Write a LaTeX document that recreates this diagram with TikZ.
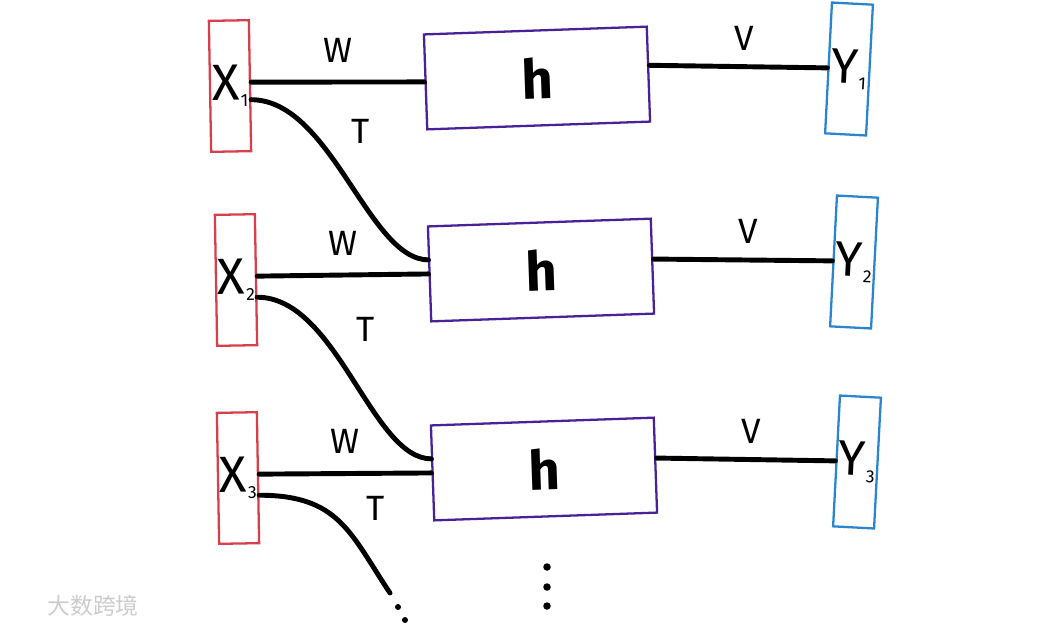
\documentclass[tikz,border=0pt]{standalone}
\usepackage{fontspec}
\setmainfont{Fira Sans}
\newfontfamily\cjk{Noto Sans CJK SC}
\usetikzlibrary{positioning}

\definecolor{vermelhoX}{RGB}{214,64,76}
\definecolor{roxoH}{RGB}{72,34,150}
\definecolor{azulY}{RGB}{44,132,208}
\newcommand{\indice}[2]{#1\kern0.02em\raisebox{-0.12em}{\fontsize{10}{10}\selectfont #2}}

\begin{document}
\begin{tikzpicture}[x=0.02cm, y=-0.02cm,
  caixaX/.style={draw=vermelhoX, line width=1.3pt, minimum width=0.8cm, minimum height=2.62cm, inner sep=0pt, font=\fontsize{29}{29}\selectfont},
  caixaH/.style={draw=roxoH, line width=1.3pt, minimum width=4.46cm, minimum height=1.9cm, font=\fontsize{31}{31}\selectfont\bfseries},
  caixaY/.style={draw=azulY, line width=1.3pt, minimum width=0.82cm, minimum height=2.62cm, inner sep=0pt, font=\fontsize{28}{28}\selectfont},
  fio/.style={line width=2.8pt, line cap=round},
  rotulo/.style={font=\fontsize{20}{20}\selectfont, inner sep=2pt},
  ponto/.style={circle, fill=black, inner sep=0pt, minimum size=0.12cm}
]
\useasboundingbox (0,0) rectangle (1050,627); %tamanho da figura em pixels

%----------------------------------------------------
%Desenhar e posicionar as caixas
%----------------------------------------------------
\draw (230,86) node[caixaX, rotate=1](X1){\indice{X}{1}}; %entrada 1
\draw (236,280) node[caixaX, rotate=1](X2){\indice{X}{2}}; %entrada 2
\draw (238,478) node[caixaX, rotate=1](X3){\indice{X}{3}}; %entrada 3

\draw (537,78) node[caixaH, rotate=2](H1){h}; %estado oculto 1
\draw (541,270) node[caixaH, rotate=2](H2){h}; %estado oculto 2
\draw (544,469) node[caixaH, rotate=2](H3){h}; %estado oculto 3

\draw (849,69) node[caixaY, rotate=-3](Y1){\indice{Y}{1}}; %saida 1
\draw (854,262) node[caixaY, rotate=-3](Y2){\indice{Y}{2}}; %saida 2
\draw (857,462) node[caixaY, rotate=-3](Y3){\indice{Y}{3}}; %saida 3

%----------------------------------------------------
%Ligacoes W (entrada -> h) e V (h -> saida)
%----------------------------------------------------
\draw[fio] ([yshift=2pt]X1.east) -- (H1.west) node[rotulo, midway, above=8pt]{W};
\draw[fio] ([yshift=2pt]X2.east) -- (H2.west) node[rotulo, midway, above=8pt]{W};
\draw[fio] ([yshift=2pt]X3.east) -- (H3.west) node[rotulo, midway, above=8pt]{W};

\draw[fio] ([yshift=5pt]H1.east) -- ([yshift=0pt]Y1.west) node[rotulo, pos=0.53, above=6pt]{V};
\draw[fio] ([yshift=4pt]H2.east) -- ([yshift=0pt]Y2.west) node[rotulo, pos=0.53, above=6pt]{V};
\draw[fio] ([yshift=4pt]H3.east) -- ([yshift=0pt]Y3.west) node[rotulo, pos=0.53, above=6pt]{V};

%----------------------------------------------------
%Ligacoes T (entrada -> h seguinte)
%----------------------------------------------------
\draw[fio] ([yshift=-8pt]X1.east) .. controls +(80,0) and +(-60,0) .. ([yshift=8pt]H2.west) node[rotulo, pos=0.42, above right=9pt]{T};
\draw[fio] ([yshift=-10pt]X2.east) .. controls +(80,0) and +(-60,0) .. ([yshift=8pt]H3.west) node[rotulo, pos=0.42, above right=9pt]{T};
\coordinate (fimT3) at (390,593); %a terceira ligacao T fica em aberto
\draw[fio] ([yshift=-10pt]X3.east) .. controls +(80,0) and +(-40,-60) .. (fimT3) node[rotulo, pos=0.35, right=22pt]{T};

%----------------------------------------------------
%Reticencias
%----------------------------------------------------
\node[ponto] (r1) at (398,607) {};
\node[ponto] (r2) at (405,620) {};
\node[ponto, minimum size=0.15cm] (p1) at (547,567) {};
\node[ponto, minimum size=0.15cm] (p2) at (547,587) {};
\node[ponto, minimum size=0.15cm] (p3) at (547,606) {};

%marca d'agua
\node[text=gray!40, font=\cjk\fontsize{13}{13}\selectfont] (marca) at (93,606) {大数跨境};

\end{tikzpicture}
\end{document}
